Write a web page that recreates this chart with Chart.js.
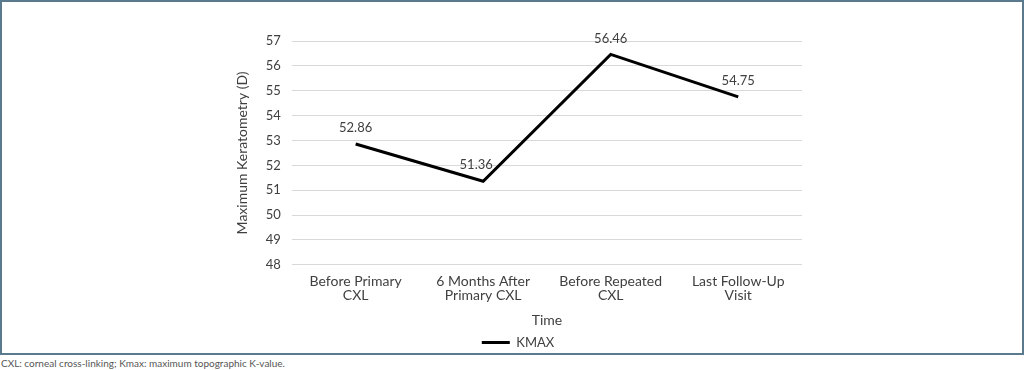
<!DOCTYPE html>
<html>
<head>
<meta charset="utf-8">
<script src="https://cdn.jsdelivr.net/npm/chart.js@4/dist/chart.umd.min.js"></script>
<style>
  body { margin: 0; background: #fff; font-family: Lato, 'Open Sans', sans-serif; }
  .frame { position: absolute; left: 0; top: 0; width: 1020px; height: 351px; border: 2px solid #5b7a8d; overflow: hidden; }
  .chartbox { position: relative; width: 1020px; height: 357px; }
  .caption { position: absolute; left: 1px; top: 357px; font-size: 10px; color: #555; white-space: nowrap; }
</style>
</head>
<body>
<div class="frame">
  <div class="chartbox"><canvas id="kmaxChart"></canvas></div>
</div>
<div class="caption">CXL: corneal cross-linking; Kmax: maximum topographic K-value.</div>
<script>
// chart data
const timepoints = [
    ['Before Primary', 'CXL'],
    ['6 Months After', 'Primary CXL'],
    ['Before Repeated', 'CXL'],
    ['Last Follow-Up', 'Visit']
];
const kmaxValues = [52.86, 51.36, 56.46, 54.75];
const yMin = 48;
const yMax = 57;

const FONT = "Lato, 'Open Sans', sans-serif";

// draws the value above each point, like Excel data labels
// (a label sitting in a dip is nudged left so it clears the rising line)
const valueLabels = {
    id: 'valueLabels',
    afterDatasetsDraw(chart) {
        const ctx = chart.ctx;
        const meta = chart.getDatasetMeta(0);
        ctx.save();
        ctx.font = '13px ' + FONT;
        ctx.fillStyle = '#404040';
        ctx.textAlign = 'center';
        ctx.textBaseline = 'middle';
        meta.data.forEach((pt, i) => {
            const prev = kmaxValues[i - 1], next = kmaxValues[i + 1];
            const isDip = prev !== undefined && next !== undefined &&
                kmaxValues[i] < prev && kmaxValues[i] < next;
            const dx = isDip ? -7 : 0;
            ctx.fillText(kmaxValues[i].toFixed(2), pt.x + dx, pt.y - 16);
        });
        ctx.restore();
    }
};

const ctx = document.getElementById('kmaxChart').getContext('2d');
new Chart(ctx, {
    type: 'line',
    data: {
        labels: timepoints,
        datasets: [{
            label: 'KMAX',
            data: kmaxValues,
            borderColor: '#000000',
            backgroundColor: '#000000',
            borderWidth: 3,
            pointRadius: 0,
            tension: 0,
            fill: false
        }]
    },
    options: {
        responsive: true,
        maintainAspectRatio: false,
        animation: false,
        layout: {
            padding: { left: 232, right: 220, top: 39, bottom: 0 }
        },
        plugins: {
            legend: {
                position: 'bottom',
                labels: {
                    usePointStyle: true,
                    pointStyle: 'line',
                    pointStyleWidth: 28,
                    padding: 1,
                    color: '#404040',
                    font: { family: FONT, size: 13 }
                }
            },
            tooltip: { enabled: false }
        },
        scales: {
            x: {
                offset: true,
                grid: { display: false, drawTicks: false },
                border: { display: false },
                ticks: {
                    color: '#404040',
                    padding: 9,
                    maxRotation: 0,
                    font: { family: FONT, size: 14, lineHeight: 1.05 }
                },
                title: {
                    display: true,
                    text: 'Time',
                    color: '#404040',
                    padding: { top: 0, bottom: 6 },
                    font: { family: FONT, size: 14 }
                }
            },
            y: {
                min: yMin,
                max: yMax,
                grid: { color: '#d9d9d9', drawTicks: false, lineWidth: 1 },
                border: { display: false },
                ticks: {
                    stepSize: 1,
                    padding: 11,
                    color: '#404040',
                    font: { family: FONT, size: 13 }
                },
                title: {
                    display: true,
                    text: 'Maximum Keratometry (D)',
                    color: '#404040',
                    padding: { top: 0, bottom: 4 },
                    font: { family: FONT, size: 14 }
                }
            }
        }
    },
    plugins: [valueLabels]
});
</script>
</body>
</html>
